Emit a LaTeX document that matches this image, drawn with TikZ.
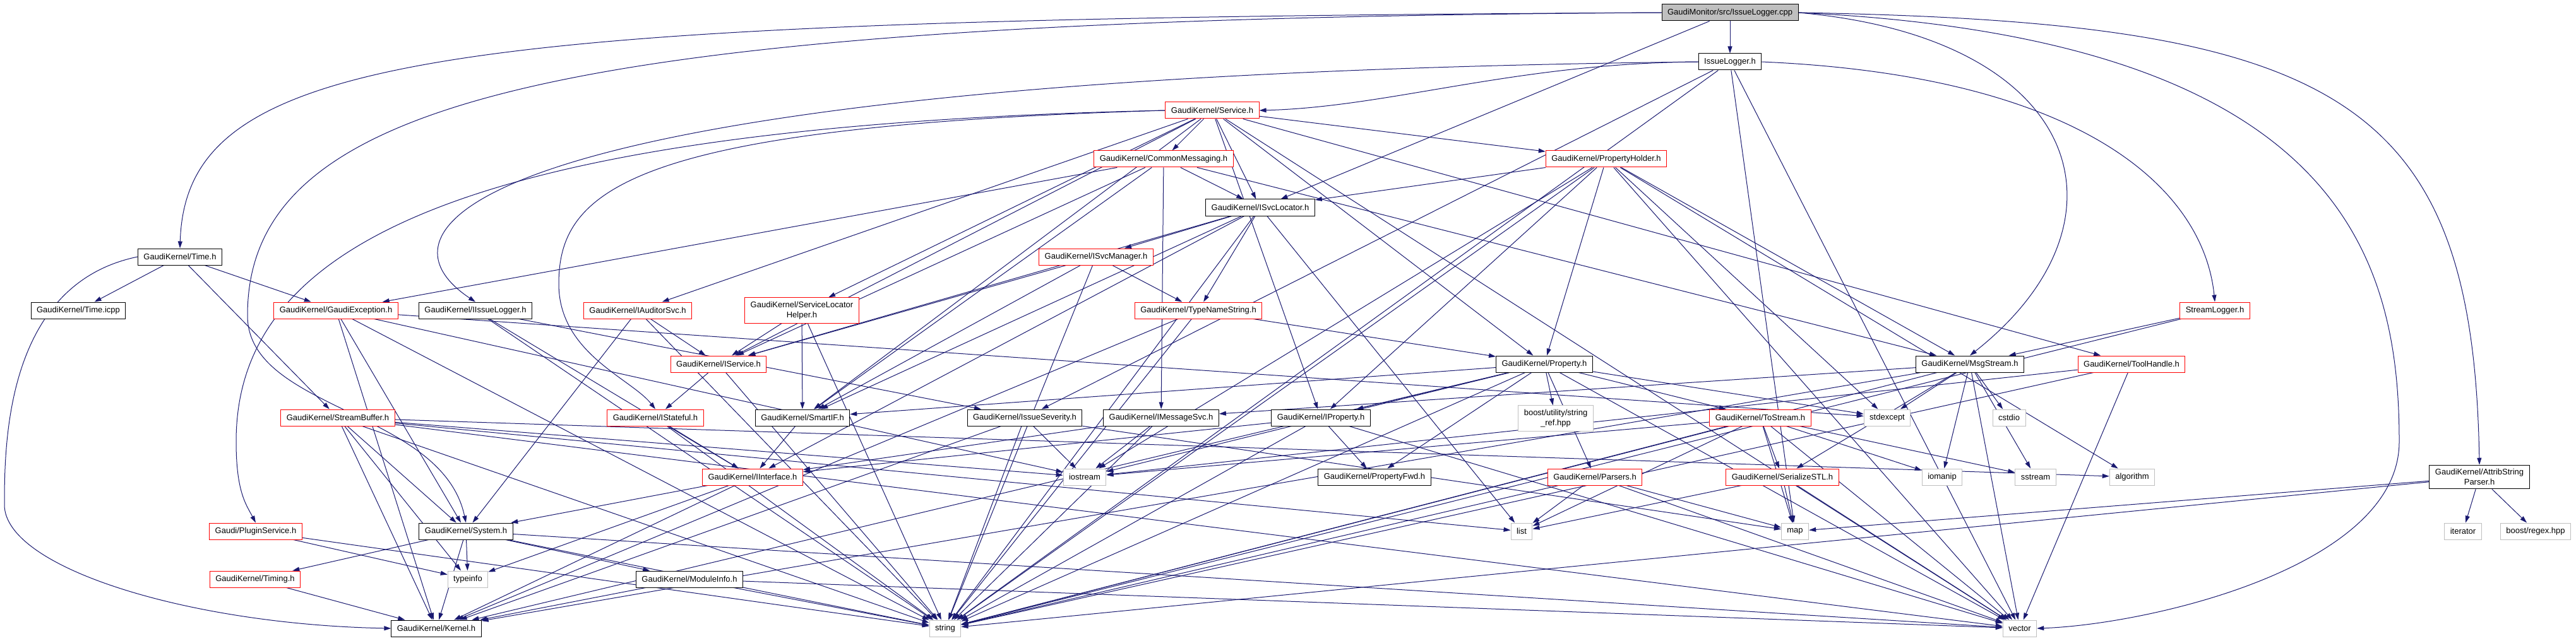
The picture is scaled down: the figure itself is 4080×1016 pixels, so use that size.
\documentclass[tikz,border=0pt]{standalone}
\usepackage{fontspec}
\setmainfont{Liberation Sans}
\usetikzlibrary{arrows.meta}
\pgfdeclarelayer{bg}
\pgfsetlayers{bg,main}
\definecolor{edgeblue}{HTML}{191970}
\definecolor{sysgray}{HTML}{BFBFBF}
\tikzset{
  file/.style={draw=black, fill=white, line width=1pt, font=\fontsize{13}{16}\selectfont,
    inner xsep=9pt, inner ysep=6pt, minimum height=26pt, align=center},
  redfile/.style={file, draw=red},
  sysfile/.style={file, draw=sysgray},
  rootfile/.style={file, fill=sysgray},
  edge/.style={edgeblue, line width=1pt, -{Triangle[length=11pt,width=7pt]}},
}
\begin{document}
\begin{tikzpicture}[x=1pt,y=-1pt]
\useasboundingbox (0,0) rectangle (4080,1016);
% top of the graph
\node [rootfile] (cpp) at (2740,20) {GaudiMonitor/src/IssueLogger.cpp};
\node [file] (issuelog) at (2740,98) {IssueLogger.h};
\node [redfile] (service) at (1920,175) {GaudiKernel/Service.h};
\node [redfile] (commsg) at (1843,252) {GaudiKernel/CommonMessaging.h};
\node [redfile] (propholder) at (2544,252) {GaudiKernel/PropertyHolder.h};
\node [file] (svcloc) at (1996,329) {GaudiKernel/ISvcLocator.h};
\node [file] (time) at (285,407) {GaudiKernel/Time.h};
\node [redfile] (svcmgr) at (1736,407) {GaudiKernel/ISvcManager.h};
% row of 492
\node [file] (timeicpp) at (124,492) {GaudiKernel/Time.icpp};
\node [redfile] (gaudiexc) at (532,492) {GaudiKernel/GaudiException.h};
\node [file] (iissuelog) at (753,492) {GaudiKernel/IIssueLogger.h};
\node [redfile] (iauditor) at (1010,492) {GaudiKernel/IAuditorSvc.h};
\node [redfile] (slhelper) at (1270,492) {GaudiKernel/ServiceLocator\\Helper.h};
\node [redfile] (typename) at (1898,492) {GaudiKernel/TypeNameString.h};
\node [redfile] (streamlog) at (3508,492) {StreamLogger.h};
% row of 577
\node [redfile] (iservice) at (1138,577) {GaudiKernel/IService.h};
\node [file] (property) at (2446,577) {GaudiKernel/Property.h};
\node [file] (msgstream) at (3120,577) {GaudiKernel/MsgStream.h};
\node [redfile] (toolhandle) at (3376,577) {GaudiKernel/ToolHandle.h};
% row of 662
\node [redfile] (streambuf) at (535,662) {GaudiKernel/StreamBuffer.h};
\node [redfile] (istateful) at (1038,662) {GaudiKernel/IStateful.h};
\node [file] (smartif) at (1271,662) {GaudiKernel/SmartIF.h};
\node [file] (severity) at (1623,662) {GaudiKernel/IssueSeverity.h};
\node [file] (imsgsvc) at (1839,662) {GaudiKernel/IMessageSvc.h};
\node [file] (iproperty) at (2092,662) {GaudiKernel/IProperty.h};
\node [sysfile] (stringref) at (2464,663) {boost/utility/string\\\_ref.hpp};
\node [redfile] (tostream) at (2788,662) {GaudiKernel/ToStream.h};
\node [sysfile] (stdexcept) at (2989,662) {stdexcept};
\node [sysfile] (cstdio) at (3182,662) {cstdio};
% row of 756
\node [redfile] (iinterface) at (1192,756) {GaudiKernel/IInterface.h};
\node [sysfile] (iostream) at (1718,756) {iostream};
\node [file] (propfwd) at (2177,756) {GaudiKernel/PropertyFwd.h};
\node [redfile] (parsers) at (2526,756) {GaudiKernel/Parsers.h};
\node [redfile] (serialize) at (2823,756) {GaudiKernel/SerializeSTL.h};
\node [sysfile] (iomanip) at (3076,756) {iomanip};
\node [sysfile] (sstream) at (3224,756) {sstream};
\node [sysfile] (algorithm) at (3377,756) {algorithm};
\node [file] (attrib) at (3927,756) {GaudiKernel/AttribString\\Parser.h};
% bottom rows
\node [redfile] (plugin) at (405,842) {Gaudi/PluginService.h};
\node [file] (system) at (738,842) {GaudiKernel/System.h};
\node [sysfile] (list) at (2410,842) {list};
\node [sysfile] (map) at (2843,842) {map};
\node [sysfile] (iterator) at (3901,842) {iterator};
\node [sysfile] (regex) at (4016,842) {boost/regex.hpp};
\node [redfile] (timing) at (404,918) {GaudiKernel/Timing.h};
\node [sysfile] (typeinfo) at (741,918) {typeinfo};
\node [file] (modinfo) at (1092,918) {GaudiKernel/ModuleInfo.h};
\node [file] (kernel) at (691,996) {GaudiKernel/Kernel.h};
\node [sysfile] (string) at (1497,996) {string};
\node [sysfile] (vector) at (3199,996) {vector};

\begin{pgfonlayer}{bg}
% includes of the source file
\foreach \t in {issuelog,svcloc}
  \draw [edge] (cpp) -- (\t);
\draw [edge] (cpp.west) .. controls (700,30) and (295,80) .. (time.north);
\draw [edge] (cpp.west) .. controls (900,30) and (392,150) .. (392,500)
  .. controls (392,650) and (700,650) .. (system.north);
\draw [edge] (cpp.east) .. controls (3300,60) and (3390,350) .. (msgstream.north);
\draw [edge] (cpp.east) .. controls (3700,60) and (3800,400) .. (3800,700)
  .. controls (3800,900) and (3400,990) .. (vector.east);
\draw [edge] (cpp.east) .. controls (3700,35) and (3917,150) .. (attrib.north);
% IssueLogger.h
\draw [edge] (issuelog.west) .. controls (2400,100) and (2200,170) .. (service.east);
\draw [edge] (issuelog.west) .. controls (800,120) and (560,350) .. (iissuelog.north);
\draw [edge] (issuelog.east) .. controls (3300,120) and (3490,300) .. (streamlog.north);
\foreach \t in {severity,string,vector,map}
  \draw [edge] (issuelog) -- (\t);
% Service.h
\foreach \t in {commsg,svcloc,propholder,iauditor,slhelper,iservice,iproperty,property,smartif,toolhandle,vector}
  \draw [edge] (service) -- (\t);
\draw [edge] (service.west) .. controls (700,200) and (374,400) .. (374,700)
  .. controls (374,780) and (390,800) .. (plugin.north);
\draw [edge] (service.west) .. controls (1000,200) and (885,300) .. (885,450)
  .. controls (885,560) and (1000,600) .. (istateful.north);
% second level
\foreach \t in {svcloc,msgstream,imsgsvc,gaudiexc,iservice,smartif}
  \draw [edge] (commsg) -- (\t);
\foreach \t in {svcloc,iproperty,property,msgstream,stdexcept,algorithm,iostream,vector,string}
  \draw [edge] (propholder) -- (\t);
\foreach \t in {svcmgr,typename,iservice,smartif,iinterface,list,string}
  \draw [edge] (svcloc) -- (\t);
\foreach \t in {timeicpp,gaudiexc,streambuf}
  \draw [edge] (time) -- (\t);
\draw [edge] (time.west) .. controls (10,450) and (7,700) .. (7,800)
  .. controls (7,900) and (300,990) .. (kernel.west);
\foreach \t in {iservice,typename,smartif,string}
  \draw [edge] (svcmgr) -- (\t);
% middle rows
\foreach \t in {kernel,system,string,iostream,stdexcept}
  \draw [edge] (gaudiexc) -- (\t);
\foreach \t in {iinterface,severity,string}
  \draw [edge] (iissuelog) -- (\t);
\foreach \t in {iservice,system,string}
  \draw [edge] (iauditor) -- (\t);
\foreach \t in {iservice,smartif,string}
  \draw [edge] (slhelper) -- (\t);
\foreach \t in {kernel,string,property}
  \draw [edge] (typename) -- (\t);
\foreach \t in {msgstream,string}
  \draw [edge] (streamlog) -- (\t);
\foreach \t in {istateful,string}
  \draw [edge] (iservice) -- (\t);
\foreach \t in {imsgsvc,serialize,stdexcept,cstdio,iomanip,sstream,string,vector,kernel}
  \draw [edge] (msgstream) -- (\t);
\foreach \t in {iostream,string,vector}
  \draw [edge] (toolhandle) -- (\t);
\foreach \t in {kernel,system,typeinfo,string,iostream,algorithm,list,vector}
  \draw [edge] (streambuf) -- (\t);
\foreach \t in {iinterface,string}
  \draw [edge] (istateful) -- (\t);
\draw [edge] (smartif) -- (iinterface);
\foreach \t in {kernel,iostream,string,map}
  \draw [edge] (severity) -- (\t);
\foreach \t in {iinterface,iostream,string}
  \draw [edge] (imsgsvc) -- (\t);
\foreach \t in {iinterface,propfwd,string,vector}
  \draw [edge] (iproperty) -- (\t);
\foreach \t in {iproperty,smartif,stringref,tostream,stdexcept,propfwd,parsers,iostream,string,vector,kernel}
  \draw [edge] (property) -- (\t);
\foreach \t in {serialize,iomanip,sstream,map,list,iostream,string,vector}
  \draw [edge] (tostream) -- (\t);
% lower rows
\foreach \t in {list,map,string,vector}
  \draw [edge] (parsers) -- (\t);
\foreach \t in {list,map,vector}
  \draw [edge] (serialize) -- (\t);
\foreach \t in {iterator,regex,string,map}
  \draw [edge] (attrib) -- (\t);
\foreach \t in {system,kernel,typeinfo}
  \draw [edge] (iinterface) -- (\t);
\foreach \t in {typeinfo,string}
  \draw [edge] (plugin) -- (\t);
\foreach \t in {timing,typeinfo,kernel,modinfo,string,vector}
  \draw [edge] (system) -- (\t);
\draw [edge] (timing) -- (kernel);
\foreach \t in {kernel,string,vector}
  \draw [edge] (modinfo) -- (\t);
\end{pgfonlayer}
\end{tikzpicture}
\end{document}
